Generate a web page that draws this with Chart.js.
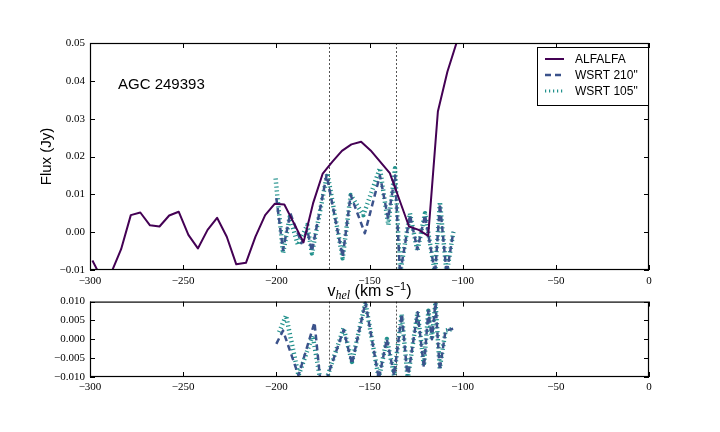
<!DOCTYPE html>
<html>
<head>
<meta charset="utf-8">
<script src="https://cdn.jsdelivr.net/npm/chart.js@4.4.0/dist/chart.umd.min.js"></script>
<style>
  html, body { margin: 0; padding: 0; background: #fff; }
  #wrap { position: relative; width: 720px; height: 432px; }
  canvas { position: absolute; left: 0; }
</style>
</head>
<body>
<div id="wrap">
  <canvas id="topChart" width="720" height="310" style="top:0;width:720px;height:310px"></canvas>
  <canvas id="resChart" width="720" height="142" style="top:290px;width:720px;height:142px"></canvas>
</div>
<script>
// ALFALFA spectrum
const alfalfaVel = [-298.7, -293.5, -288.4, -283.3, -278.1, -273.0, -267.8, -262.7, -257.5, -252.4,
    -247.2, -242.1, -236.9, -231.8, -226.6, -221.5, -216.3, -211.2, -206.0, -200.9,
    -195.7, -190.6, -185.4, -180.3, -175.1, -170.0, -164.8, -159.7, -154.5, -149.4,
    -144.2, -139.1, -133.9, -128.8, -123.6, -118.5, -113.3, -108.2, -103.0, -97.9];
const alfalfaFlux = [-0.0075, -0.0125, -0.0105, -0.0045, 0.0045, 0.0052, 0.0018, 0.0015, 0.0044, 0.0054,
    -0.0007, -0.0043, 0.0006, 0.0038, -0.0012, -0.0085, -0.0081, -0.0012, 0.0045, 0.0075,
    0.0073, 0.0024, -0.0027, 0.0076, 0.0155, 0.0186, 0.0215, 0.0232, 0.0239, 0.0216,
    0.0186, 0.0156, 0.0085, 0.0015, 0.0006, -0.0010, 0.0319, 0.0424, 0.0505, 0.0580];

// WSRT spectra
const wsrt210Vel = [-200.0, -196.4, -192.5, -186.5, -183.4, -180.9, -173.0, -164.4, -160.1, -152.5,
    -144.4, -140.0, -136.3, -133.6, -128.3, -124.3, -120.2, -114.8, -112.2, -108.6, -105.0];
const wsrt210Flux = [0.0090, -0.0047, 0.0050, -0.0029, 0.0006, -0.0051, 0.0151, -0.0065, 0.0098, -0.0003,
    0.0150, 0.0035, 0.0150, -0.0110, 0.0045, -0.0045, 0.0045, -0.0110, 0.0075, -0.0110, 0.0001];
const wsrt105Vel = [-200.4, -196.4, -192.8, -188.4, -183.4, -180.9, -172.6, -164.4, -160.1, -153.3,
    -144.4, -139.9, -136.3, -133.6, -128.3, -124.3, -120.2, -114.8, -112.2, -108.6, -105.0];
const wsrt105Flux = [0.0142, -0.0056, 0.0041, -0.0034, 0.0019, -0.0056, 0.0156, -0.0069, 0.0098, 0.0045,
    0.0169, 0.0019, 0.0169, -0.0110, 0.0050, -0.0050, 0.0050, -0.0110, 0.0080, -0.0110, 0.0001];

// residuals (bottom panel)
const res210Vel = [-200.0, -196.4, -188.1, -179.5, -176.5, -173.0, -163.9, -159.4, -152.2, -145.0,
    -140.7, -136.8, -132.7, -129.5, -124.2, -120.8, -118.4, -116.5, -114.6, -112.3, -109.2, -105.1];
const res210Flux = [-0.0012, 0.0023, -0.0096, 0.0045, -0.0105, -0.0105, 0.0025, -0.0065, 0.0098, -0.0105,
    0.0001, -0.0096, 0.0067, -0.0105, 0.0072, -0.0075, 0.0076, 0.0000, 0.0098, -0.0082, 0.0023, 0.0028];
const res105Vel = [-198.5, -194.8, -188.1, -180.5, -176.5, -173.0, -163.9, -159.4, -152.2, -145.0,
    -140.7, -136.8, -132.7, -129.5, -124.2, -120.8, -118.4, -116.5, -114.6, -112.3, -109.2, -105.1];
const res105Flux = [0.0019, 0.0063, -0.0096, 0.0010, -0.0105, -0.0105, 0.0030, -0.0060, 0.0098, -0.0105,
    0.0001, -0.0096, 0.0067, -0.0105, 0.0072, -0.0070, 0.0076, 0.0000, 0.0098, -0.0077, 0.0023, 0.0028];

// velocity range markers
const markerVel = [-172.0, -135.8];

const seriesNames = ['ALFALFA', 'WSRT 210"', 'WSRT 105"'];
const colors = ['#440154', '#3b528b', '#21918c'];

const SANS = '"Liberation Sans", Arial, sans-serif';
const SERIF = '"Liberation Serif", "Times New Roman", serif';

function pair(xs, ys) {
    return xs.map((v, i) => ({ x: v, y: ys[i] }));
}

function fmt(v, d) {
    let s = Math.abs(v) < 1e-9 ? (0).toFixed(d) : v.toFixed(d);
    return s.replace('-', '\u2212');
}

function lineSet(label, pts, color, width, dash) {
    return {
        label: label,
        data: pts,
        borderColor: color,
        borderWidth: width,
        borderDash: dash,
        borderCapStyle: 'butt',
        borderJoinStyle: 'round',
        pointRadius: 0,
        tension: 0,
        fill: false,
        clip: 0
    };
}

// frame, inward ticks, markers and texts
const framePlugin = {
    id: 'frame',
    beforeDatasetsDraw(chart) {
        const { ctx, chartArea: a, scales: { x } } = chart;
        ctx.save();
        ctx.strokeStyle = '#555';
        ctx.lineWidth = 1;
        ctx.setLineDash([2, 2]);
        markerVel.forEach(v => {
            const px = Math.round(x.getPixelForValue(v)) + 0.5;
            ctx.beginPath();
            ctx.moveTo(px, a.top);
            ctx.lineTo(px, a.bottom);
            ctx.stroke();
        });
        ctx.restore();
    },
    afterDatasetsDraw(chart, args, opts) {
        const { ctx, chartArea: a, scales: { x, y } } = chart;
        ctx.save();
        ctx.strokeStyle = '#000';
        ctx.lineWidth = 1;
        const tl = 5;
        ctx.beginPath();
        x.ticks.forEach(t => {
            const px = Math.round(x.getPixelForValue(t.value)) + 0.5;
            ctx.moveTo(px, a.bottom); ctx.lineTo(px, a.bottom - tl);
            ctx.moveTo(px, a.top); ctx.lineTo(px, a.top + tl);
        });
        y.ticks.forEach(t => {
            const py = Math.round(y.getPixelForValue(t.value)) + 0.5;
            ctx.moveTo(a.left, py); ctx.lineTo(a.left + tl, py);
            ctx.moveTo(a.right, py); ctx.lineTo(a.right - tl, py);
        });
        ctx.stroke();
        ctx.lineWidth = 1.2;
        ctx.strokeRect(a.left + 0.5, a.top + 0.5, a.right - a.left - 1, a.bottom - a.top - 1);

        if (opts.main) {
            ctx.fillStyle = '#000';
            ctx.font = '15px ' + SANS;
            ctx.textAlign = 'left';
            ctx.textBaseline = 'alphabetic';
            ctx.fillText('AGC 249393', 118, 89);

            // y label
            ctx.save();
            ctx.translate(47, (a.top + a.bottom) / 2);
            ctx.rotate(-Math.PI / 2);
            ctx.textAlign = 'center';
            ctx.textBaseline = 'middle';
            ctx.font = '15px ' + SANS;
            ctx.fillText('Flux (Jy)', 0, 0);
            ctx.restore();

            // x label with sub/superscript
            const parts = [
                { t: 'v', f: '16px ' + SANS, dy: 0 },
                { t: 'hel', f: 'italic 12px ' + SERIF, dy: 3 },
                { t: ' (km s', f: '16px ' + SANS, dy: 0 },
                { t: '\u22121', f: '11px ' + SANS, dy: -6 },
                { t: ')', f: '16px ' + SANS, dy: 0 }
            ];
            let w = 0;
            parts.forEach(p => { ctx.font = p.f; p.w = ctx.measureText(p.t).width; w += p.w; });
            let cx = (a.left + a.right) / 2 - w / 2;
            ctx.textAlign = 'left';
            parts.forEach(p => { ctx.font = p.f; ctx.fillText(p.t, cx, 296 + p.dy); cx += p.w; });

            // legend
            const lx = 537.5, ly = 47.5, lw = 111, lh = 58;
            ctx.fillStyle = '#fff';
            ctx.fillRect(lx, ly, lw, lh);
            ctx.lineWidth = 1;
            ctx.strokeStyle = '#000';
            ctx.strokeRect(lx, ly, lw, lh);
            chart.data.datasets.forEach((ds, i) => {
                const ry = 59 + i * 16;
                ctx.save();
                ctx.strokeStyle = ds.borderColor;
                ctx.lineWidth = Math.min(ds.borderWidth, 3);
                ctx.lineCap = 'butt';
                ctx.setLineDash(ds.borderDash || []);
                ctx.beginPath();
                ctx.moveTo(545, ry);
                ctx.lineTo(564, ry);
                ctx.stroke();
                ctx.restore();
                ctx.fillStyle = '#000';
                ctx.font = '12px ' + SANS;
                ctx.textBaseline = 'middle';
                ctx.fillText(ds.label, 575, ry + 0.5);
            });
        }
        ctx.restore();
    }
};

function axisX(pad) {
    return {
        type: 'linear', min: -300, max: 0,
        grid: { display: false, drawTicks: false },
        border: { display: false },
        ticks: {
            stepSize: 50, padding: pad, color: '#000',
            font: { family: SERIF, size: 11 },
            maxRotation: 0,
            callback: v => fmt(v, 0)
        }
    };
}

function axisY(min, max, step, digits) {
    return {
        type: 'linear', min: min, max: max,
        grid: { display: false, drawTicks: false },
        border: { display: false },
        afterFit: s => { s.width = 90; },
        ticks: {
            stepSize: step, padding: 5, color: '#000',
            font: { family: SERIF, size: 11 },
            callback: v => fmt(v, digits)
        }
    };
}

// top panel
const topX = axisX(5);
topX.afterFit = s => { s.height = 40; };
new Chart(document.getElementById('topChart'), {
    type: 'line',
    data: {
        datasets: [
            lineSet(seriesNames[0], pair(alfalfaVel, alfalfaFlux), colors[0], 2, []),
            lineSet(seriesNames[1], pair(wsrt210Vel, wsrt210Flux), colors[1], 2.5, [6, 4]),
            lineSet(seriesNames[2], pair(wsrt105Vel, wsrt105Flux), colors[2], 4.5, [1.2, 2.8])
        ]
    },
    options: {
        responsive: false,
        animation: false,
        layout: { padding: { top: 43, right: 71, left: 0, bottom: 0 } },
        scales: { x: topX, y: axisY(-0.01, 0.05, 0.01, 2) },
        plugins: { legend: { display: false }, tooltip: { enabled: false }, frame: { main: true } }
    },
    plugins: [framePlugin]
});

// residual panel
const resX = axisX(4);
resX.afterFit = s => { s.height = 55; };
new Chart(document.getElementById('resChart'), {
    type: 'line',
    data: {
        datasets: [
            lineSet(seriesNames[1], pair(res210Vel, res210Flux), colors[1], 2.5, [6, 4]),
            lineSet(seriesNames[2], pair(res105Vel, res105Flux), colors[2], 4.5, [1.2, 2.8])
        ]
    },
    options: {
        responsive: false,
        animation: false,
        layout: { padding: { top: 8, right: 71, left: 0, bottom: 0 } },
        scales: { x: resX, y: axisY(-0.01, 0.01, 0.005, 3) },
        plugins: { legend: { display: false }, tooltip: { enabled: false }, frame: { main: false } }
    },
    plugins: [framePlugin]
});
</script>
</body>
</html>
